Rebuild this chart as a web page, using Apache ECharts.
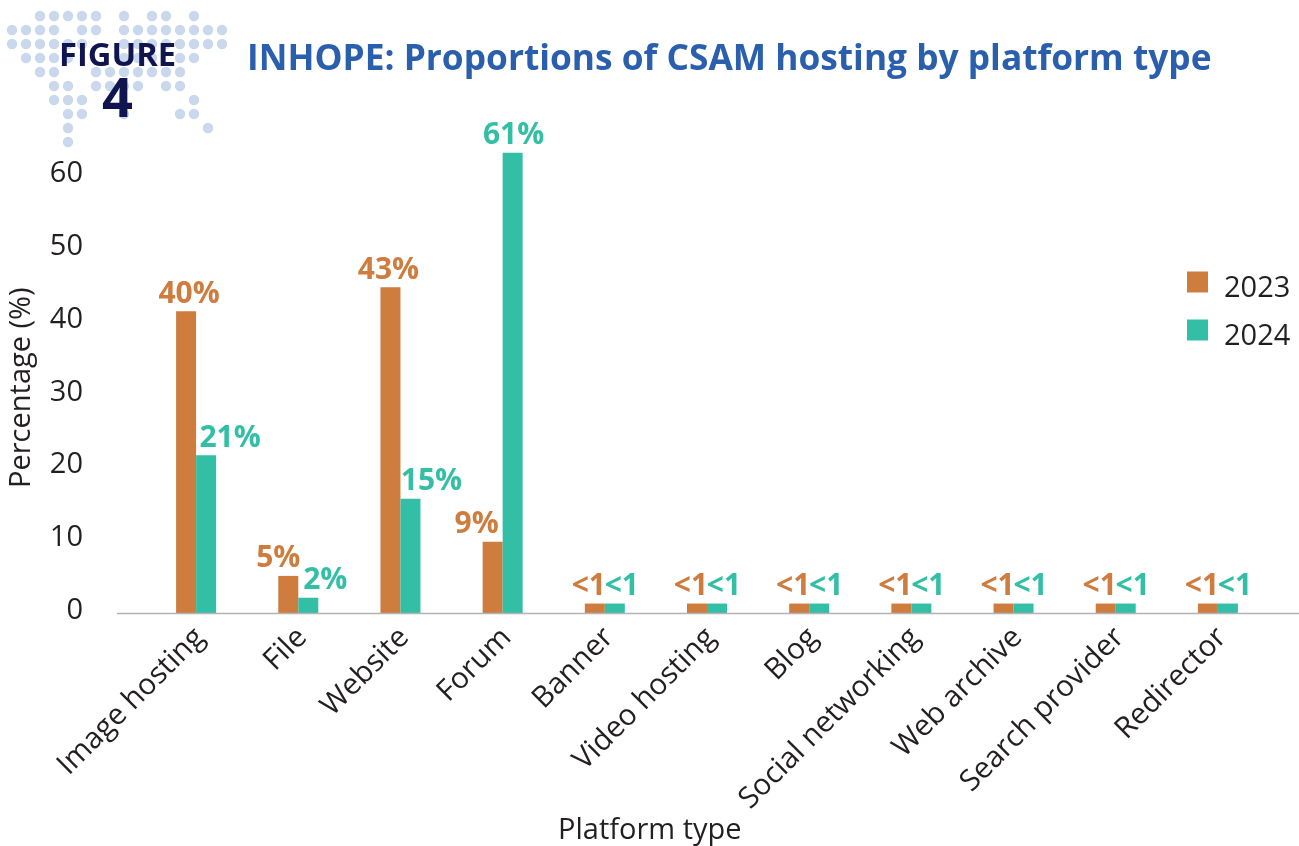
<!DOCTYPE html>
<html>
<head>
<meta charset="utf-8">
<title>INHOPE: Proportions of CSAM hosting by platform type</title>
<style>
  html, body { margin: 0; padding: 0; background: #fff; }
  #main { width: 1299px; height: 846px; }
</style>
</head>
<body>
<div id="main"></div>
<script src="https://cdn.jsdelivr.net/npm/echarts@6/dist/echarts.min.js"></script>
<script>
  var categories = ['Image hosting', 'File', 'Website', 'Forum', 'Banner', 'Video hosting', 'Blog',
    'Social networking', 'Web archive', 'Search provider', 'Redirector']
  // bar heights read against the axis; the printed labels are kept separately
  var values2023 = [41.5, 5.1, 44.8, 9.8, 1.3, 1.3, 1.3, 1.3, 1.3, 1.3, 1.3]
  var values2024 = [21.7, 2.1, 15.7, 63.3, 1.3, 1.3, 1.3, 1.3, 1.3, 1.3, 1.3]
  var labels2023 = ['40%', '5%', '43%', '9%', '<1', '<1', '<1', '<1', '<1', '<1', '<1']
  var labels2024 = ['21%', '2%', '15%', '61%', '<1', '<1', '<1', '<1', '<1', '<1', '<1']

  // labels were nudged sideways by hand in the original
  var nudge2023 = [3, -10, -2, -16, -6, -6, -6, -6, -6, -6, -6]
  var nudge2024 = [24, 17, 21, 1, 7, 7, 7, 7, 7, 7, 7]

  // dot map behind the figure number: column indexes per row
  var dotRows = [
    [2, 3, 4, 5, 6, 8, 10, 11, 13],
    [0, 1, 2, 3, 5, 6, 8, 9, 10, 11, 12, 13, 14, 15],
    [0, 1, 2, 3, 4, 5, 8, 9, 10, 11, 12, 13, 14, 15],
    [1, 2, 3, 4, 8, 9, 10, 12, 13],
    [2, 3, 6, 7, 8, 9, 10, 11, 12],
    [3, 4, 6, 7, 8, 9, 11, 12],
    [3, 4, 5, 13],
    [4, 5, 8, 12, 13],
    [4, 14],
    [4]
  ]

  var ORANGE = '#CF7C3F'
  var TEAL = '#33BFA5'
  var TEXT = '#231F20'
  var FONT = '"Open Sans", "Noto Sans", sans-serif'

  var dots = []
  dotRows.forEach(function (cols, r) {
    cols.forEach(function (c) {
      dots.push({
        type: 'circle',
        z: 0,
        shape: { cx: 12 + c * 14, cy: 16 + r * 14, r: 5.2 },
        style: { fill: '#C9D8EC' }
      })
    })
  })

  function barData (values, labels, nudge, color) {
    return values.map(function (v, i) {
      return {
        value: v,
        label: {
          show: true,
          position: 'top',
          distance: 2,
          offset: [nudge[i], 0],
          formatter: labels[i],
          color: color,
          fontFamily: FONT,
          fontWeight: 'bold',
          fontSize: 30
        }
      }
    })
  }

  var myChart = echarts.init(document.getElementById('main'))
  myChart.setOption({
    animation: false,
    backgroundColor: '#fff',
    textStyle: { fontFamily: FONT },
    title: {
      text: 'INHOPE: Proportions of CSAM hosting by platform type',
      left: 242,
      top: 37,
      textStyle: { color: '#2A5FAD', fontFamily: FONT, fontWeight: 'bold', fontSize: 35.3 }
    },
    legend: {
      left: 1187,
      top: 260.5,
      padding: 0,
      orient: 'vertical',
      itemWidth: 21,
      itemHeight: 21,
      itemGap: 5,
      icon: 'rect',
      data: ['2023', '2024'],
      formatter: '{t|{name}}',
      textStyle: {
        rich: {
          t: { color: TEXT, fontFamily: FONT, fontSize: 29, lineHeight: 21, padding: [14, 0, 0, 11] }
        }
      }
    },
    grid: { left: 145, top: 104, width: 1124, height: 509 },
    xAxis: {
      type: 'category',
      data: categories,
      axisLine: { show: false },
      axisTick: { show: false },
      axisLabel: {
        interval: 0,
        rotate: 45,
        margin: 16,
        verticalAlign: 'top',
        lineHeight: 11,
        color: TEXT,
        fontFamily: FONT,
        fontSize: 29.5
      }
    },
    yAxis: {
      type: 'value',
      min: 0,
      max: 70,
      interval: 10,
      axisLine: { show: false },
      axisTick: { show: false },
      splitLine: { show: false },
      axisLabel: {
        margin: 62,
        color: TEXT,
        fontFamily: FONT,
        fontSize: 29,
        verticalAlign: 'bottom',
        lineHeight: 5,
        formatter: function (v) { return v > 60 ? '' : v }
      }
    },
    series: [
      {
        name: '2023',
        type: 'bar',
        barWidth: 20,
        barGap: 0,
        itemStyle: { color: ORANGE },
        data: barData(values2023, labels2023, nudge2023, ORANGE)
      },
      {
        name: '2024',
        type: 'bar',
        barWidth: 20,
        itemStyle: { color: TEAL },
        data: barData(values2024, labels2024, nudge2024, TEAL)
      }
    ],
    graphic: dots.concat([
      {
        type: 'line',
        z: 5,
        shape: { x1: 117, y1: 613.5, x2: 1299, y2: 613.5 },
        style: { stroke: '#B3B3B3', lineWidth: 1.5 }
      },
      {
        type: 'text',
        z: 10,
        left: 59,
        top: 40,
        style: { text: 'FIGURE', fill: '#10154F', font: 'bold 32.7px ' + FONT }
      },
      {
        type: 'text',
        z: 10,
        left: 102,
        top: 75,
        style: { text: '4', fill: '#10154F', font: 'bold 54px ' + FONT }
      },
      {
        type: 'text',
        left: 558,
        top: 816,
        style: { text: 'Platform type', fill: TEXT, font: '29px ' + FONT }
      },
      {
        type: 'text',
        rotation: Math.PI / 2,
        x: 7,
        y: 488,
        style: { text: 'Percentage (%)', fill: TEXT, font: '29px ' + FONT }
      }
    ])
  })
</script>
</body>
</html>
